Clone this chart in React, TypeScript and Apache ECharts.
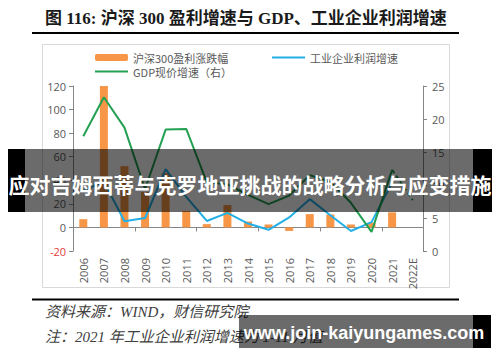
import React, { useEffect, useRef } from "react";
import * as echarts from "echarts";

const categories = ["2006","2007","2008","2009","2010","2011","2012","2013","2014","2015","2016","2017","2018","2019","2020","2021","2022E"];
const hs300Profit = [7, 120, 52, 30, 46, 14, 2.8, 19, 5, 2.5, -3, 11.3, 11, 2.5, 4, 12.8, null];
const industrialProfit = [31, 39, 5.2, 8, 49.4, 26, 5.5, 12.3, 3.3, -2, 8.5, 24, 10.3, -3, 4.5, 38, null];
const gdpNominal = [17.4, 23.3, 18.7, 9.4, 18.4, 18.5, 10.4, 10.1, 8.5, 7.1, 8.4, 11.5, 10.5, 7.3, 2.9, 12.3, null];
const gdpForecast = [null, null, null, null, null, null, null, null, null, null, null, null, null, null, null, 12.3, 7.7];
const leftAxis = { min: -20, max: 120, interval: 20 };
const rightAxis = { min: 0, max: 25, interval: 5 };

const titleText = "图 116: 沪深 300 盈利增速与 GDP、工业企业利润增速";
const sourceText = "资料来源：WIND，财信研究院";
const noteText = "注：2021 年工业企业利润增速为 1-11 月值";
const bannerText = "应对吉姆西蒂与克罗地亚挑战的战略分析与应变措施";
const siteText = "www.join-kaiyungames.com";

const ORANGE = "#f79646";
const GREEN = "#23a052";
const BLUE = "#22b0e6";
const AXIS = "#868686";
const LABEL = "#595959";
const CJK = '"Noto Sans CJK SC", "Noto Sans", sans-serif';

export default function App() {
  const ref = useRef<HTMLDivElement>(null);
  useEffect(() => {
    document.body.style.margin = "0";
    const chart = echarts.init(ref.current!, null, { renderer: "svg" });
    const legendBase = {
      orient: "horizontal",
      padding: 0,
      itemWidth: 33,
      itemHeight: 7,
      itemGap: 0,
      selectedMode: false,
      textStyle: { color: LABEL, fontSize: 11, fontFamily: CJK },
    };
    const lineLegend = { ...legendBase, itemHeight: 2, icon: "rect" };
    chart.setOption({
      animation: false,
      backgroundColor: "#ffffff",
      grid: { left: 73, right: 77, top: 86, bottom: 111, containLabel: false, outerBoundsMode: "none" },
      legend: [
        { ...legendBase, data: ["沪深300盈利涨跌幅"], left: 95, top: 52 },
        { ...lineLegend, data: ["GDP现价增速（右）"], left: 95, top: 66 },
        { ...lineLegend, data: ["工业企业利润增速"], left: 272, top: 52 },
      ],
      xAxis: [
        {
          type: "category",
          data: categories,
          position: "bottom",
          axisLine: { show: false, onZero: false },
          axisTick: { show: false },
          axisLabel: { rotate: 90, interval: 0, margin: 7, color: LABEL, fontSize: 11, fontFamily: '"Open Sans", sans-serif' },
        },
        {
          type: "category",
          data: categories,
          position: "bottom",
          axisLine: { show: true, onZero: true, onZeroAxisIndex: 0, lineStyle: { color: AXIS, width: 1 } },
          axisTick: { show: true, length: 4, lineStyle: { color: AXIS } },
          axisLabel: { show: false },
        },
      ],
      yAxis: [
        {
          type: "value",
          position: "left",
          min: leftAxis.min,
          max: leftAxis.max,
          interval: leftAxis.interval,
          splitLine: { show: false },
          axisLine: { show: true, lineStyle: { color: AXIS } },
          axisTick: { show: true, length: 4, lineStyle: { color: AXIS } },
          axisLabel: {
            margin: 7,
            fontSize: 11,
            fontFamily: '"Open Sans", sans-serif',
            color: (v: any) => (Number(v) < 0 ? "#e5393b" : LABEL),
          },
        },
        {
          type: "value",
          position: "right",
          min: rightAxis.min,
          max: rightAxis.max,
          interval: rightAxis.interval,
          splitLine: { show: false },
          axisLine: { show: true, lineStyle: { color: AXIS } },
          axisTick: { show: true, length: 4, lineStyle: { color: AXIS } },
          axisLabel: { margin: 9, fontSize: 11, color: LABEL, fontFamily: '"Open Sans", sans-serif' },
        },
      ],
      series: [
        {
          name: "沪深300盈利涨跌幅",
          type: "bar",
          data: hs300Profit,
          xAxisIndex: 0,
          yAxisIndex: 0,
          barWidth: 8,
          itemStyle: { color: ORANGE },
        },
        {
          name: "工业企业利润增速",
          type: "line",
          data: industrialProfit,
          xAxisIndex: 0,
          yAxisIndex: 0,
          symbol: "none",
          lineStyle: { color: BLUE, width: 2 },
          itemStyle: { color: BLUE },
        },
        {
          name: "GDP现价增速（右）",
          type: "line",
          data: gdpNominal,
          xAxisIndex: 0,
          yAxisIndex: 1,
          symbol: "none",
          lineStyle: { color: GREEN, width: 2 },
          itemStyle: { color: GREEN },
        },
        {
          name: "GDP现价增速预测",
          type: "line",
          data: gdpForecast,
          xAxisIndex: 0,
          yAxisIndex: 1,
          symbol: "none",
          lineStyle: { color: GREEN, width: 2, type: [4, 3] },
          itemStyle: { color: GREEN },
        },
      ],
      graphic: [
        {
          type: "text",
          x: 45,
          y: 18,
          style: {
            text: titleText,
            fill: "#1a1a1a",
            fontSize: 17,
            fontWeight: "bold",
            fontFamily: '"Liberation Serif", "Noto Sans CJK SC", serif',
            verticalAlign: "middle",
          },
        },
        { type: "rect", shape: { x: 32, y: 32, width: 427, height: 2 }, style: { fill: "#000" } },
        { type: "rect", z: -10, shape: { x: 42.5, y: 44.5, width: 407, height: 243 }, style: { fill: "none", stroke: "#d9d9d9", lineWidth: 1 } },
        { type: "rect", shape: { x: 32, y: 298.5, width: 427, height: 2 }, style: { fill: "#000" } },
        {
          type: "text",
          x: 45,
          y: 312,
          style: { text: sourceText, fill: "#404040", fontSize: 15, fontStyle: "italic", fontFamily: '"Liberation Serif", "Noto Sans CJK SC", serif', verticalAlign: "middle" },
        },
        {
          type: "text",
          x: 45,
          y: 337,
          style: { text: noteText, fill: "#404040", fontSize: 15, fontStyle: "italic", fontFamily: '"Liberation Serif", "Noto Sans CJK SC", serif', verticalAlign: "middle" },
        },
        { type: "rect", z: 100, shape: { x: 8, y: 149, width: 484, height: 63 }, style: { fill: "rgba(0,0,0,0.58)" } },
        { type: "rect", z: 101, shape: { x: 8, y: 149, width: 17, height: 63 }, style: { fill: "#000" } },
        { type: "rect", z: 101, shape: { x: 473, y: 149, width: 19, height: 63 }, style: { fill: "#000" } },
        {
          type: "text",
          z: 102,
          x: 250,
          y: 184,
          style: { text: bannerText, fill: "#ffffff", fontSize: 21, fontWeight: "bold", fontFamily: CJK, align: "center", verticalAlign: "middle" },
        },
        { type: "rect", z: 100, shape: { x: 239, y: 315, width: 234, height: 33 }, style: { fill: "rgba(0,0,0,0.58)" } },
        { type: "rect", z: 101, shape: { x: 473, y: 315, width: 18, height: 33 }, style: { fill: "#000" } },
        {
          type: "text",
          z: 102,
          x: 364,
          y: 333,
          style: { text: siteText, fill: "#ffffff", fontSize: 18, fontWeight: "bold", fontFamily: '"Liberation Sans", sans-serif', align: "center", verticalAlign: "middle" },
        },
      ],
    });
    return () => chart.dispose();
  }, []);
  return <div ref={ref} style={{ position: "absolute", left: 0, top: 0, width: 500, height: 362 }} />;
}
